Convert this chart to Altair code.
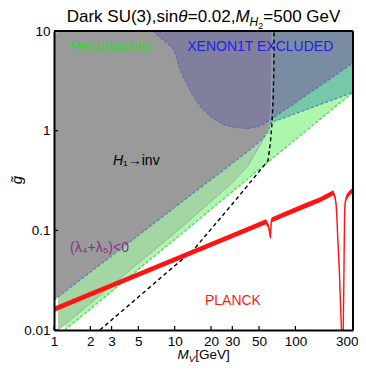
import altair as alt
import pandas as pd

FONT = "Liberation Sans"

# ---------------- data ----------------
x_ticks = [1, 2, 3, 5, 10, 20, 30, 50, 100, 300]
y_ticks = [0.01, 0.1, 1, 10]

# perturbativity boundary (green dashed)
pert_M = [1.23, 10, 59.3, 300]
pert_g = [0.01, 0.081, 0.484, 2.43]

# H1 -> invisible boundary (thin grey line)
h1_M = [1.08, 2, 5, 10, 20, 30, 40, 46, 52, 56, 59, 61, 62.5, 63.5, 64, 64.2]
h1_g = [0.01, 0.0185, 0.047, 0.094, 0.195, 0.3, 0.44, 0.58, 0.75, 0.9, 1.05, 1.2, 1.5, 2.2, 4, 10]

# (lambda4+lambda5)<0 boundary (blue dashed)
lam_M = [1, 5, 13.4, 30, 44.5, 55, 60, 62.5, 100, 200, 300]
lam_g = [0.02, 0.089, 0.223, 0.47, 0.68, 0.86, 1.0, 1.2, 1.48, 2.02, 2.42]

# XENON1T excluded boundary
xe_M = [6.6, 8, 9.5, 10.2, 11, 12, 14, 17, 20, 25, 30, 40, 50, 61.6, 100, 200, 300]
xe_g = [10, 8.2, 6.9, 5.8, 4.2, 3.3, 2.3, 1.65, 1.38, 1.16, 1.09, 1.05, 1.1, 1.28, 1.91, 3.4, 4.8]
h1_edge_M = [64, 64.2]          # vertical edge of H1->inv region
h1_edge_xe_g = [1.32, 10]

# small corner region at top-left
corner_M = [1, 1.12]
corner_g = [8.8, 10]

# black dashed curve
bd_M = [2.4, 5, 9.1, 14.2, 30.5, 51, 59.3, 62, 64, 65.5, 66.3, 66.5]
bd_g = [0.01, 0.0214, 0.04, 0.063, 0.188, 0.4, 0.5, 0.75, 1.2, 2.2, 4, 10]

# PLANCK relic curve (red)
planck_M = [1, 2, 5, 10, 20, 40, 57, 59, 60.5, 61.5, 62.2, 62.7, 63.3, 80, 120, 160,
            206, 213, 217, 221, 224, 231, 239, 243, 246, 249, 252, 254, 256, 259, 266, 280, 300]
planck_g = [0.0161, 0.0228, 0.036, 0.051, 0.072, 0.102, 0.122, 0.114, 0.104, 0.092, 0.084, 0.11, 0.127,
            0.143, 0.176, 0.203, 0.238, 0.215, 0.187, 0.13, 0.086, 0.04, 0.0126, 0.007, 0.006, 0.01,
            0.03, 0.08, 0.16, 0.195, 0.217, 0.235, 0.254]

# ---------------- derived region boundaries ----------------
gray_M = [m for m in lam_M if m < 55] + [m for m in h1_M if m >= 56]
gray_g = [g for m, g in zip(lam_M, lam_g) if m < 55] + [g for m, g in zip(h1_M, h1_g) if m >= 56]
xp_M = [m for m in xe_M if m < 64] + h1_edge_M
xp_g = [g for m, g in zip(xe_M, xe_g) if m < 64] + h1_edge_xe_g

# ---------------- encodings ----------------
W = H = 299
xscale = alt.Scale(type="log", domain=[1, 300], nice=False)
yscale = alt.Scale(type="log", domain=[0.01, 10], nice=False)
xaxis = alt.Axis(values=x_ticks, format="~g", title=None, grid=False, ticks=False,
                 labelFontSize=13.5, labelFont=FONT, labelColor="black", labelPadding=4,
                 labelOverlap=False, labelBound=False, domainColor="black", domainWidth=2,
                 zindex=1,
                 labelAlign={"condition": {"test": "datum.value == 300", "value": "right"},
                             "value": "center"},
                 labelOffset={"condition": {"test": "datum.value == 300", "value": 5},
                              "value": 0})
yaxis = alt.Axis(values=y_ticks, format="~g", title=None, grid=False, ticks=False,
                 labelFontSize=13.5, labelFont=FONT, labelColor="black", labelPadding=4,
                 labelOverlap=False, labelBound=False, domainColor="black", domainWidth=2,
                 zindex=1)
X = alt.X("M:Q", scale=xscale, axis=xaxis)
Y = alt.Y("g:Q", scale=yscale, axis=yaxis)


def frame(M, g):
    return pd.DataFrame({"M": M, "g": g})


def region(M, g, color):
    return alt.Chart(frame(M, g)).mark_area(color=color, opacity=1, clip=True).encode(
        x=X, y=Y, y2=alt.datum(10))


def curve(M, g, color, width, dash=None):
    kw = dict(color=color, strokeWidth=width, clip=True)
    if dash:
        kw["strokeDash"] = dash
    return alt.Chart(frame(M, g)).mark_line(**kw).encode(x=X, y=Y)


def label(M, g, text, color, size=14, align="left", style="normal"):
    d = pd.DataFrame({"M": [M], "g": [g], "t": [text]})
    return alt.Chart(d).mark_text(align=align, baseline="alphabetic", fontSize=size,
                                  fontStyle=style, font=FONT, color=color).encode(
        x=X, y=Y, text="t:N")


def ptext(text, x, y, size, style="normal", align="left", angle=0, baseline="alphabetic"):
    d = pd.DataFrame({"t": [text]})
    return alt.Chart(d).mark_text(align=align, baseline=baseline, fontSize=size, fontStyle=style,
                                  font=FONT, color="black", angle=angle).encode(
        x=alt.value(x), y=alt.value(y), text="t:N")


def edge(x1, x2, y1, y2):
    d = pd.DataFrame({"k": [0]})
    return alt.Chart(d).mark_rule(color="black", strokeWidth=2).encode(
        x=alt.value(x1), x2=alt.value(x2), y=alt.value(y1), y2=alt.value(y2))


layers = [
    region(pert_M, pert_g, "#acf7ac"),
    region(h1_M, h1_g, "#a3d6a3"),
    region(lam_M, lam_g, "#76c8a8"),
    region(gray_M, gray_g, "#9a9a9a"),
    region(xe_M, xe_g, "#7a8ca2"),
    region(xp_M, xp_g, "#80809e"),
    region(corner_M, corner_g, "#c89ac8"),
    curve(h1_M, h1_g, "#a8a8a8", 1),
    curve(pert_M, pert_g, "#3fdc3f", 1.2, [3, 2]),
    curve(lam_M, lam_g, "#5a7fc0", 1.2, [3, 2]),
    curve(xe_M, xe_g, "#6a6ab0", 1.2, [3, 2]),
    curve(bd_M, bd_g, "black", 1.4, [4, 3]),
    alt.Chart(frame(planck_M, planck_g)).transform_calculate(
        lo="datum.g/1.06", hi="datum.g*1.06").mark_area(color="#ff1414", clip=True).encode(
        x=X, y=alt.Y("lo:Q", scale=yscale, axis=yaxis), y2="hi:Q"),
    curve(planck_M, planck_g, "#ff1414", 1.4),
    label(1.36, 6.3, "Perturbativity", "#2edc2e"),
    label(12.7, 6.3, "XENON1T EXCLUDED", "#2020ee"),
    label(3.73, 0.452, "\u2081\u2192inv", "black"),
    label(3.73, 0.452, "H", "black", align="right", style="italic"),
    label(1.36, 0.0605, "(\u03bb\u2084+\u03bb\u2085)<0", "#8b2f8b"),
    label(17.8, 0.0178, "PLANCK", "#ff1a1a"),
    alt.Chart(pd.DataFrame({"M": x_ticks})).mark_rule(color="black", strokeWidth=1.2).encode(
        x=X, y=alt.value(H), y2=alt.value(H - 4)),
    alt.Chart(pd.DataFrame({"g": y_ticks})).mark_rule(color="black", strokeWidth=1.2).encode(
        y=Y, x=alt.value(0), x2=alt.value(4)),
    # frame top and right edges (drawn over the filled regions)
    edge(0, W, 0, 0),
    edge(W, W, 0, H),
    # title pieces
    ptext("Dark SU(3),sin", 12.7, -9, 17),
    ptext("\u03b8", 124.2, -9, 17, style="italic"),
    ptext("=0.02,", 133.7, -9, 17),
    ptext("M", 181.4, -9, 17, style="italic"),
    ptext("H", 195.6, -5, 12, style="italic"),
    ptext("2", 204.3, -2, 9),
    ptext("=500 GeV", 209.3, -9, 17),
    # axis titles
    ptext("M", 123.5, 328, 13.5, style="italic"),
    ptext("V", 134.8, 331, 9.5, style="italic"),
    ptext("[GeV]", 141.2, 328, 13.5),
    ptext("g\u0303", -37, 149, 15, style="italic", align="center", angle=270, baseline="middle"),
]

chart = alt.layer(*layers).properties(
    width=W, height=H,
    padding={"left": 46, "top": 23, "right": 5, "bottom": 34},
    autosize=alt.AutoSizeParams(type="none"),
).configure_view(stroke="black", strokeWidth=2).configure(background="white")

chart.save("out.html", embed_options={"renderer": "svg", "actions": False})
